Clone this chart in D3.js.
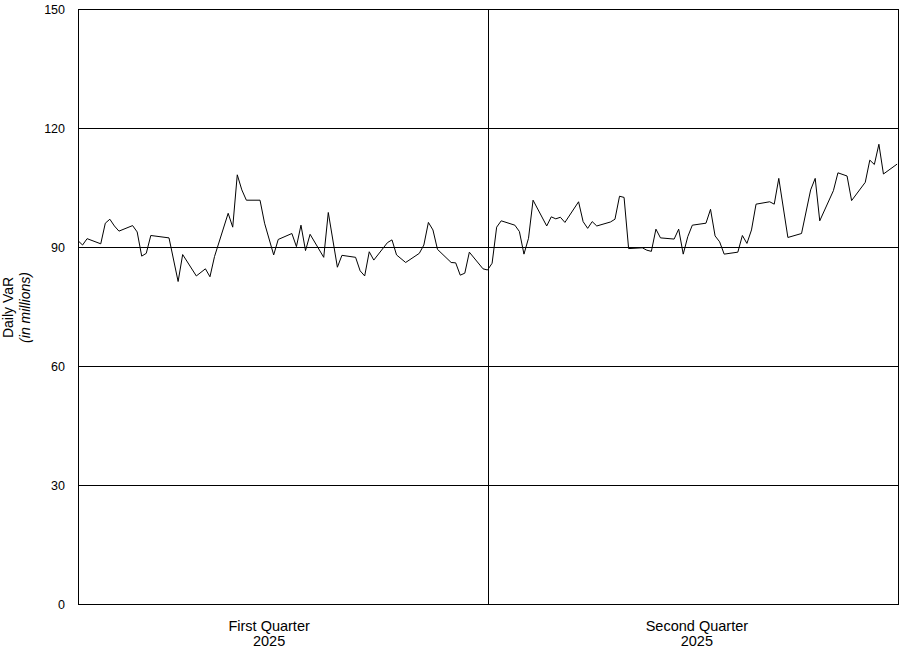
<!DOCTYPE html>
<html>
<head>
<meta charset="utf-8">
<script src="https://cdn.jsdelivr.net/npm/d3@7"></script>
<style>
  html, body { margin: 0; padding: 0; background: #fff; }
  svg { display: block; font-family: Arial, "Liberation Sans", sans-serif; }
</style>
</head>
<body>
<svg id="chart" width="904" height="651"></svg>
<script>
// ---- data ----
const dates = [
  "2025-01-01","2025-01-02","2025-01-03","2025-01-06","2025-01-07","2025-01-08","2025-01-09","2025-01-10",
  "2025-01-13","2025-01-14","2025-01-15","2025-01-16","2025-01-17","2025-01-21","2025-01-23","2025-01-24",
  "2025-01-27","2025-01-29","2025-01-30","2025-01-31","2025-02-03","2025-02-04","2025-02-05","2025-02-06",
  "2025-02-07","2025-02-10","2025-02-11","2025-02-13","2025-02-14","2025-02-17","2025-02-18","2025-02-19",
  "2025-02-20","2025-02-21","2025-02-24","2025-02-25","2025-02-27","2025-02-28","2025-03-03","2025-03-04",
  "2025-03-05","2025-03-06","2025-03-07","2025-03-10","2025-03-11","2025-03-12","2025-03-14","2025-03-17",
  "2025-03-18","2025-03-19","2025-03-20","2025-03-21","2025-03-24","2025-03-25","2025-03-26","2025-03-27",
  "2025-03-28","2025-03-31",
  "2025-04-01","2025-04-02","2025-04-03","2025-04-04","2025-04-07","2025-04-08","2025-04-09","2025-04-10",
  "2025-04-11","2025-04-14","2025-04-15","2025-04-16","2025-04-17","2025-04-18","2025-04-21","2025-04-22",
  "2025-04-23","2025-04-24","2025-04-25","2025-04-28","2025-04-29","2025-04-30","2025-05-01","2025-05-02",
  "2025-05-05","2025-05-06","2025-05-07","2025-05-08","2025-05-09","2025-05-12","2025-05-13","2025-05-14",
  "2025-05-15","2025-05-16","2025-05-19","2025-05-20","2025-05-21","2025-05-22","2025-05-23","2025-05-26",
  "2025-05-27","2025-05-28","2025-05-29","2025-05-30","2025-06-02","2025-06-03","2025-06-04","2025-06-06",
  "2025-06-09","2025-06-11","2025-06-12","2025-06-13","2025-06-16","2025-06-17","2025-06-19","2025-06-20",
  "2025-06-23","2025-06-24","2025-06-25","2025-06-26","2025-06-27","2025-06-30"
];
const varValues = [
  91.6, 90.5, 92.1, 90.8, 96.0, 97.0, 95.3, 94.0,
  95.4, 93.8, 87.7, 88.4, 92.9, 92.3, 81.3, 88.1,
  82.7, 84.5, 82.5, 87.6, 98.5, 95.0, 108.2, 104.4,
  101.8, 101.8, 96.0, 88.0, 91.9, 93.4, 90.1, 95.5,
  89.1, 93.2, 87.4, 98.7, 84.9, 87.9, 87.4, 84.0,
  82.7, 88.8, 86.7, 91.1, 91.8, 88.0, 86.1, 88.4,
  90.5, 96.2, 94.3, 89.4, 86.1, 86.0, 82.9, 83.4,
  88.7, 84.5,
  84.2, 85.9, 95.0, 96.6, 95.5, 93.9, 88.2, 92.2,
  101.8, 95.3, 97.6, 97.1, 97.5, 96.2, 101.4, 96.4,
  94.7, 96.4, 95.3, 96.3, 97.0, 102.8, 102.5, 89.6,
  89.8, 89.2, 88.9, 94.5, 92.3, 92.0, 94.5, 88.2,
  92.6, 95.5, 96.0, 99.5, 92.8, 91.3, 88.2, 88.7,
  92.9, 90.9, 94.3, 100.8, 101.4, 100.8, 107.3, 92.4,
  93.4, 104.4, 107.3, 96.6, 104.2, 108.7, 107.9, 101.7,
  106.3, 111.9, 110.8, 115.9, 108.4, 110.9
];
const yTicks = [0, 30, 60, 90, 120, 150];
const quarterNames = ["First Quarter", "Second Quarter"];
const quarterYears = ["2025", "2025"];
const quarterStarts = ["2025-04-01"];            // divider between quarters
const quarterLabelDates = ["2025-02-12", "2025-05-17"];
const domainStart = "2025-01-01T00:00:00Z";
const domainEnd = "2025-06-30T10:00:00Z";
const yLabel = ["Daily VaR", "(in millions)"];

// ---- layout ----
const svg = d3.select("#chart");
const L = 78, R = 899, T = 9, B = 604;
const parse = s => new Date(s.length > 10 ? s : s + "T00:00:00Z");

const x = d3.scaleUtc().domain([parse(domainStart), parse(domainEnd)]).range([L, R]);
const y = d3.scaleLinear().domain([0, 150]).range([B, T]);

const data = dates.map((d, i) => ({ date: parse(d), v: varValues[i] }));

// gridlines
svg.append("g")
  .selectAll("line")
  .data(yTicks.filter(t => t > 0 && t < 150))
  .join("line")
  .attr("x1", L).attr("x2", R)
  .attr("y1", d => Math.round(y(d)) + 0.5).attr("y2", d => Math.round(y(d)) + 0.5)
  .attr("stroke", "#000").attr("stroke-width", 1);

// quarter divider
svg.append("g")
  .selectAll("line")
  .data(quarterStarts)
  .join("line")
  .attr("x1", d => Math.round(x(parse(d))) + 0.5).attr("x2", d => Math.round(x(parse(d))) + 0.5)
  .attr("y1", T).attr("y2", B)
  .attr("stroke", "#000").attr("stroke-width", 1);

// frame
svg.append("rect")
  .attr("x", L + 0.5).attr("y", T + 0.5)
  .attr("width", R - L - 1).attr("height", B - T)
  .attr("fill", "none").attr("stroke", "#000").attr("stroke-width", 1);

// y axis labels
const yAxis = d3.axisLeft(y).tickValues(yTicks).tickSize(0).tickPadding(13);
const gy = svg.append("g").attr("transform", `translate(${L},0)`).call(yAxis);
gy.select(".domain").remove();
gy.selectAll("text").attr("font-size", "12.5px").attr("fill", "#000")
  .attr("font-family", "Arial, 'Liberation Sans', sans-serif");

// line
const line = d3.line().x(d => x(d.date)).y(d => y(d.v));
svg.append("path")
  .datum(data)
  .attr("d", line)
  .attr("fill", "none")
  .attr("stroke", "#000")
  .attr("stroke-width", 1)
  .attr("stroke-linejoin", "miter");

// quarter labels
const ql = svg.append("g").attr("font-size", "14.5px").attr("fill", "#000").attr("text-anchor", "middle");
quarterNames.forEach((name, i) => {
  const cx = x(parse(quarterLabelDates[i]));
  const t = ql.append("text").attr("x", cx).attr("y", 631);
  t.append("tspan").attr("x", cx).text(name);
  t.append("tspan").attr("x", cx).attr("dy", 15).text(quarterYears[i]);
});

// y title
const yt = svg.append("text")
  .attr("transform", `translate(0,${(T + B) / 2 + 1}) rotate(-90)`)
  .attr("text-anchor", "middle").attr("fill", "#000").attr("font-size", "14px");
yt.append("tspan").attr("x", 0).attr("y", 12.5).text(yLabel[0]);
yt.append("tspan").attr("x", 0).attr("y", 30).attr("font-style", "italic").text(yLabel[1]);
</script>
</body>
</html>
